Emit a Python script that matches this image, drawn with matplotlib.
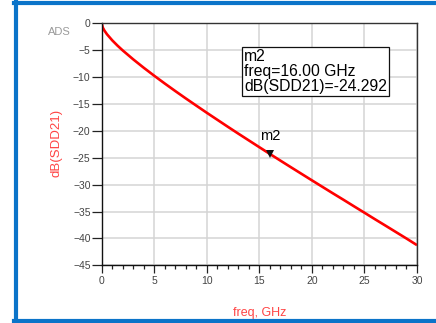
import numpy as np
import matplotlib
matplotlib.use("Agg")
import matplotlib.pyplot as plt
from matplotlib.lines import Line2D

plt.rcParams['font.family'] = ['Liberation Sans', 'DejaVu Sans']

# dB(SDD21)
freq_ghz = [0, 0.1, 0.25, 0.5, 1, 1.5, 2, 3, 4, 5, 6, 7, 8, 9, 10, 11, 12, 13, 14, 15,
            16, 17, 18, 19, 20, 21, 22, 23, 24, 25, 26, 27, 28, 29, 30]
sdd21_db = [0, -0.79, -1.34, -2.04, -3.17, -4.15, -5.05, -6.71, -8.27, -9.76, -11.20,
            -12.60, -13.97, -15.31, -16.64, -17.94, -19.24, -20.52, -21.78, -23.04,
            -24.292, -25.53, -26.76, -27.98, -29.20, -30.41, -31.62, -32.81, -34.02,
            -35.22, -36.43, -37.62, -38.82, -40.02, -41.25]

marker_name = "m2"
marker_freq = 16.0
marker_db = -24.292

x_ticks = [0, 5, 10, 15, 20, 25, 30]
y_ticks = [0, -5, -10, -15, -20, -25, -30, -35, -40, -45]

fig = plt.figure(figsize=(4.36, 3.23), dpi=100)
ax = fig.add_axes([0.2333, 0.1786, 0.7231, 0.7493])

ax.plot(freq_ghz, sdd21_db, color='#ff0000', linewidth=1.9, solid_capstyle='butt')

ax.set_xlim(0, 30)
ax.set_ylim(-45, 0)
ax.set_xticks(x_ticks)
ax.set_xticks(np.arange(0, 31, 1), minor=True)
ax.set_yticks(y_ticks)
ax.grid(True, which='major', color='#d4d4d4', linewidth=1.1)
ax.set_axisbelow(True)

ax.tick_params(axis='x', which='major', direction='out', length=6, width=0.9,
               colors='#222222', labelsize=7.5, labelcolor='#444444', pad=2)
ax.tick_params(axis='x', which='minor', direction='out', length=3, width=0.9,
               colors='#222222')
ax.tick_params(axis='y', which='major', direction='out', length=7, width=0.9,
               colors='#222222', labelsize=7.5, labelcolor='#444444', pad=1)

for side in ['left', 'bottom']:
    ax.spines[side].set_color('#111111')
    ax.spines[side].set_linewidth(1.0)
for side in ['top', 'right']:
    ax.spines[side].set_color('#333333')
    ax.spines[side].set_linewidth(1.0)

ax.set_xlabel('freq, GHz', color='#ff4444', fontsize=9, labelpad=15)
ax.set_ylabel('dB(SDD21)', color='#ff4444', fontsize=9.5)
ax.yaxis.set_label_coords(-0.124, 0.505)

fig.text(0.135, 0.90, 'ADS', color='#9a9a9a', fontsize=8, ha='center', va='center')

# marker m2
ax.plot([marker_freq], [marker_db], marker='v', color='#111111', markersize=6,
        markeredgewidth=0)
ax.annotate(marker_name, (marker_freq, marker_db), xytext=(0, 11),
            textcoords='offset pixels', ha='center', va='bottom', fontsize=10.5)

readout = f"{marker_name}\nfreq={marker_freq:.2f} GHz\ndB(SDD21)={marker_db:.3f}"
ax.text(0.451, 0.895, readout, transform=ax.transAxes, ha='left', va='top',
        fontsize=11.3, linespacing=1.0,
        bbox=dict(boxstyle='square,pad=0.12', facecolor='white',
                  edgecolor='#111111', linewidth=0.9))

# blue window frame
blue = '#0b74c9'
fig.add_artist(Line2D([0.037, 0.037], [0.0, 0.997], color=blue, linewidth=3,
                      transform=fig.transFigure))
fig.add_artist(Line2D([0.033, 1.0], [0.992, 0.992], color=blue, linewidth=3,
                      transform=fig.transFigure))
fig.add_artist(Line2D([0.033, 1.0], [0.0065, 0.0065], color=blue, linewidth=3,
                      transform=fig.transFigure))

fig.savefig('out.png', dpi=100)
